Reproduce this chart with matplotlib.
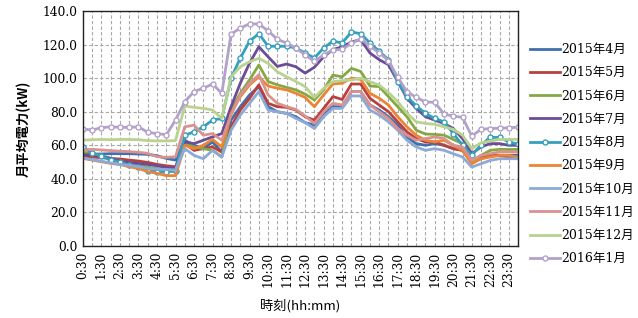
import matplotlib
matplotlib.use("Agg")
import matplotlib.pyplot as plt

# half-hour categories 0:30 ... 24:00
times = [f"{(i + 1) // 2}:{'30' if i % 2 == 0 else '00'}" for i in range(48)]

labels = ["2015年4月", "2015年5月", "2015年6月", "2015年7月", "2015年8月",
          "2015年9月", "2015年10月", "2015年11月", "2015年12月", "2016年1月"]

apr = [54.6, 54.8, 54.8, 55, 55, 55, 54.8, 54.6, 53.8, 52.2, 51.2,
       63, 60, 58, 62, 56,
       75, 83, 90, 95, 83, 80, 79, 77, 73.5, 72, 79, 83, 83, 92, 92, 84, 81, 77, 72,
       65, 61, 60, 61, 60, 58, 57, 50, 53, 54, 54, 54, 54]
may = [53.2, 53, 52.6, 52.2, 51.8, 51.2, 50.6, 49.8, 48.6, 47.8, 47.2,
       61, 57, 58, 59, 56,
       71, 81, 88, 96, 85, 83, 82.6, 81, 77, 75, 82, 89, 87.3, 96.5, 96.5, 88, 84, 80, 74,
       68, 64, 62, 62, 60, 58, 57, 50, 52, 54, 54, 53, 53]
jun = [55.8, 55.2, 53.8, 52.2, 50.6, 49, 48.2, 47, 46, 45.5, 45,
       62, 59, 58, 57, 53,
       81, 91, 99, 107.8, 98, 96, 94.5, 93, 90.5, 87, 93, 101.8, 100.8, 105.8, 104, 95.3, 95, 89, 83,
       77, 69, 66.7, 66.5, 66, 63.5, 61, 50, 54, 57, 57.6, 57.5, 57.5]
jul = [54.2, 54.5, 53.2, 52.2, 50.6, 49.8, 49.2, 48.6, 47.8, 46.7, 46.2,
       62, 61, 63, 65, 67,
       83, 97, 109, 118.7, 112.7, 107, 108.4, 106.8, 103, 106.5, 112.7, 117, 118.7, 121.5, 123, 115, 111, 108, 98,
       88, 82, 77, 75, 73, 70, 64, 55, 59, 61, 61, 60, 60]
aug = [59.2, 55.2, 53.6, 51, 50.2, 48, 47.2, 44.8, 44.3, 44.3, 44.5,
       66, 68, 71, 75, 76,
       100, 112, 122, 126.5, 119, 119, 119, 118, 115, 112, 118, 122, 121, 127.5, 126.5, 121, 116, 111, 98,
       89, 83.5, 79, 76, 74, 67, 60, 54, 60.3, 64.7, 64.7, 62, 60.7]
sep = [52.2, 51.2, 50.2, 49.2, 48.6, 47.2, 46.2, 44.3, 43.3, 41.9, 41.9,
       60, 58, 60, 63.5, 59,
       79, 89, 96, 100.8, 95.3, 94, 93, 91, 88.5, 83, 90, 96.5, 97, 100, 99.3, 91, 88, 84, 77,
       71, 66, 63, 62, 63, 60, 57, 49, 52, 53, 54, 54, 53]
octo = [52.5, 51.5, 50.5, 49.5, 48.5, 48, 47.2, 46.2, 45.8, 45.6, 45.3,
        58, 54, 52, 57, 53,
        69, 78, 85, 92, 81, 80, 79, 76, 73.5, 70, 77, 82, 82, 89.4, 89.4, 81, 78, 74, 69,
        63, 59, 57, 58, 57, 55, 53, 47, 49, 51, 52, 52, 52]
nov = [57.2, 57.6, 57.2, 56.8, 56.5, 56.2, 55.8, 55.2, 53.2, 52.8, 53.2,
       71, 72, 66, 67, 63,
       78, 90, 97, 102, 90, 85, 83, 81.4, 77.4, 73, 80, 85, 84, 92, 92, 84, 80, 76, 70,
       66, 63, 64, 65, 64, 60, 59, 51, 54, 55, 56, 56, 56]
dec = [63.1, 63.3, 63.5, 63.3, 63.5, 63.5, 63.3, 62.8, 62.6, 62.6, 62.8,
       83.4, 82.6, 82, 81, 76,
       100.8, 106.8, 109.8, 111.8, 108.8, 103.8, 100.8, 98, 95, 88.5, 93.9, 97.9, 98.5, 98.9, 99.9, 97.9, 95.9, 91.5, 86,
       79, 74, 73, 72.5, 71, 69.5, 66, 58, 61.5, 62.5, 63.5, 63.5, 63.5]
jan = [69.7, 69.1, 70.5, 71, 70.7, 70.7, 71, 67.7, 67, 66.3, 75,
       86, 92, 94, 96.5, 91,
       126.3, 129.8, 132.4, 132.2, 128.2, 123.1, 120.9, 118, 113.8, 110, 113.8, 116.8, 117.1, 120.7, 123.5, 119, 115, 110.5, 100.5,
       92, 88.5, 85.8, 85.6, 78.6, 77.4, 76.6, 65.5, 69.5, 70, 70.2, 70.4, 70.8]

series = [apr, may, jun, jul, aug, sep, octo, nov, dec, jan]
colors = ["#3F6FAE", "#B8413D", "#86A844", "#6B4D96", "#35A0BE",
          "#EB8434", "#8DA9D6", "#DA9290", "#B9D38F", "#B2A1CB"]
marked = {"2015年8月", "2016年1月"}

serif = ["DejaVu Serif", "Noto Sans CJK JP"]
gothic = ["Noto Sans CJK JP", "DejaVu Sans"]

fig = plt.figure(figsize=(6.38, 3.18), dpi=100)
ax = fig.add_axes([0.130, 0.2264, 0.682, 0.739])

x = list(range(len(times)))
for vals, lab, col in zip(series, labels, colors):
    if lab in marked:
        ax.plot(x, vals, color=col, lw=2.0, label=lab, marker="o", ms=3.6,
                mfc="white", mec=col, mew=1.0)
    else:
        ax.plot(x, vals, color=col, lw=2.0, label=lab)

ax.set_xlim(0, len(times) - 1)
ax.set_ylim(0, 140)
ax.set_yticks(range(0, 141, 20))
ax.set_yticklabels([f"{v:.1f}" for v in range(0, 141, 20)], family=serif, fontsize=8.8)
ax.set_xticks(x[::2])
ax.set_xticklabels(times[::2], rotation=90, family=serif, fontsize=8.8)
ax.set_xticks(x, minor=True)
ax.tick_params(length=0, which="both", pad=4)
ax.grid(True, which="both", axis="x", color="#A8A8A8", ls=(0, (3, 2)), lw=0.8)
ax.grid(True, which="major", axis="y", color="#A8A8A8", ls=(0, (3, 2)), lw=0.8)
ax.set_axisbelow(True)
for s in ax.spines.values():
    s.set_linewidth(1.0)
    s.set_color("#222222")

ax.set_ylabel("月平均電力(kW)", family=gothic, fontsize=9.5, fontweight="bold", labelpad=8)
ax.set_xlabel("時刻(hh:mm)", family=gothic, fontsize=9.5, labelpad=9)

leg = ax.legend(loc="upper left", bbox_to_anchor=(1.015, 0.885), frameon=False,
                prop={"family": serif, "size": 9}, handlelength=2.4,
                handletextpad=0.1, labelspacing=0.82, borderaxespad=0)

fig.savefig("out.png", dpi=100)
